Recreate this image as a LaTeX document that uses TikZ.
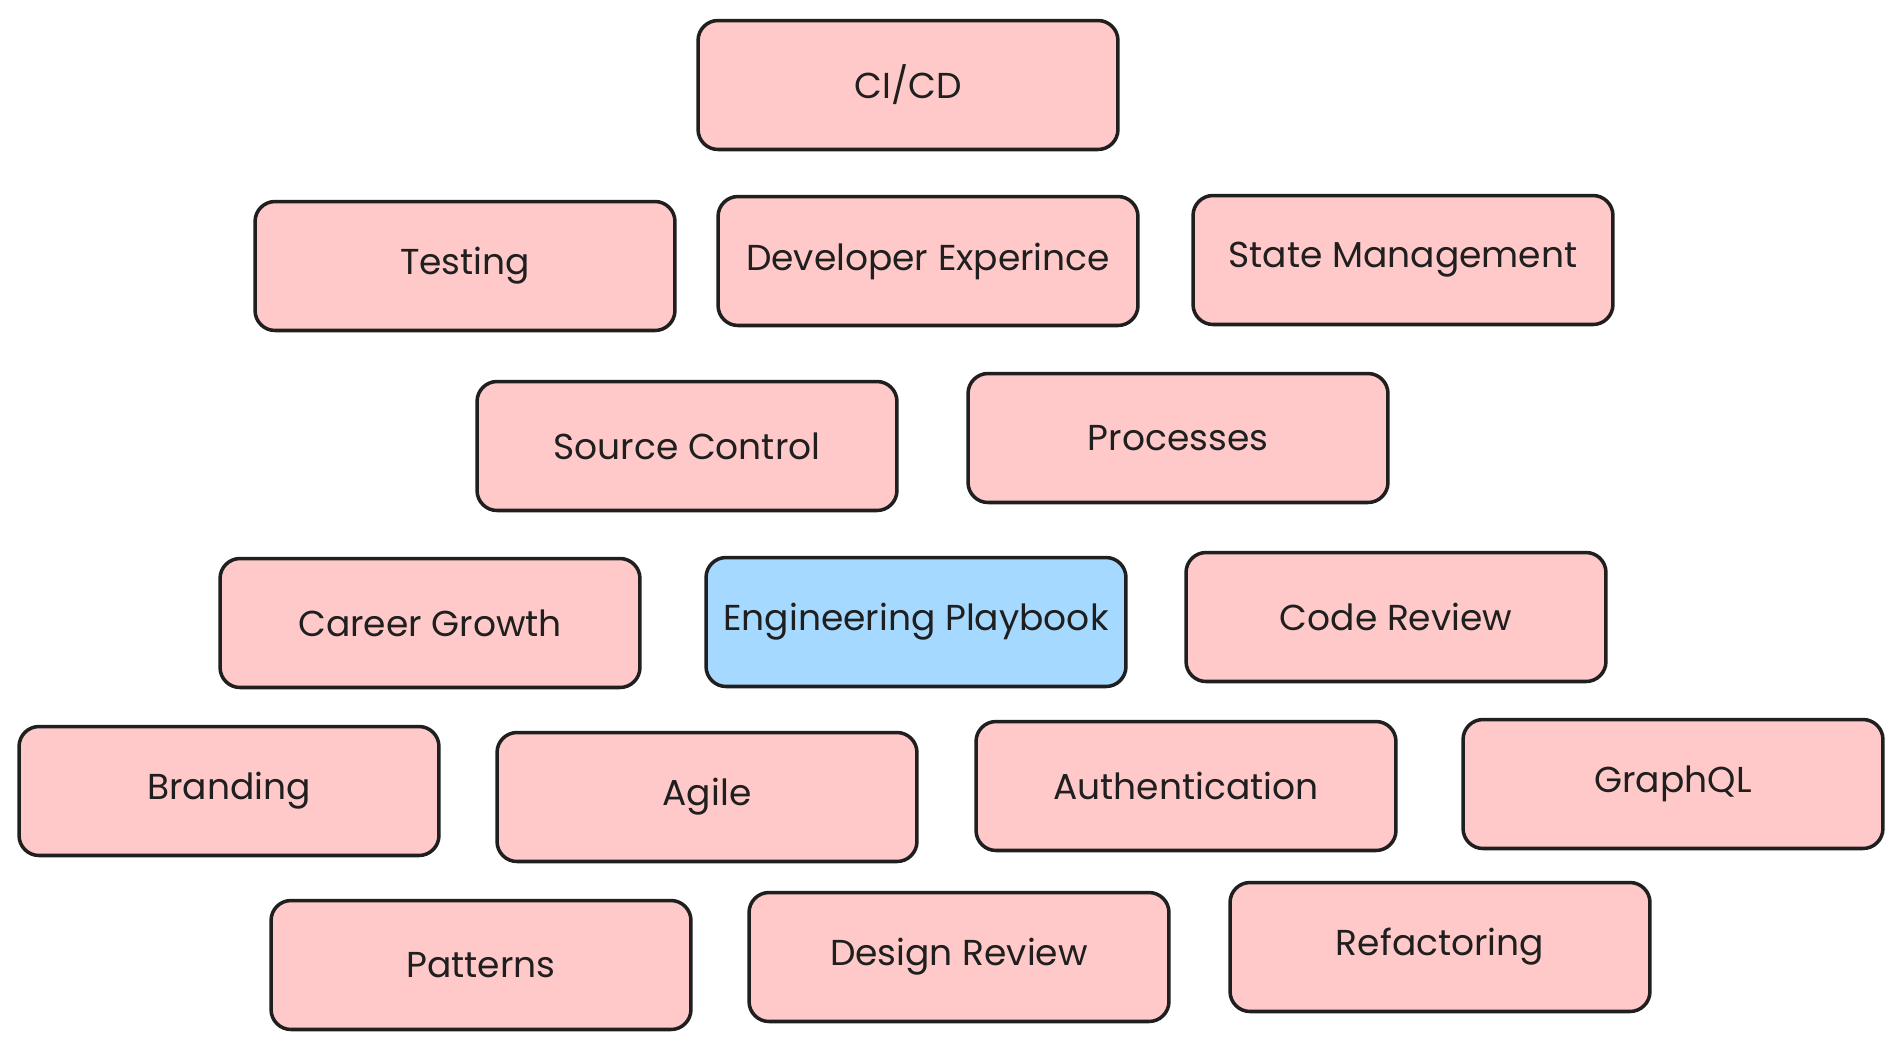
\documentclass[tikz,border=0pt]{standalone}
\usepackage{fontspec}
\setmainfont{Poppins}
\usepackage{tikz}
\definecolor{ffcccc}{rgb}{1,0.79,0.79}
\definecolor{aaddff}{rgb}{0.65,0.85,1}
\definecolor{uuuuuu}{rgb}{0.12,0.12,0.12}

\begin{document}
\begin{tikzpicture}[line cap=round,line join=round,x=0.02cm,y=-0.02cm,
  box/.style={draw=uuuuuu,fill=ffcccc,line width=2pt,rounded corners=0.4cm,
    minimum width=8.4cm,minimum height=2.58cm,inner sep=0pt,
    font=\fontsize{20.5}{24}\selectfont,text=uuuuuu},
  mainbox/.style={box,fill=aaddff}]
\useasboundingbox (0,0) rectangle (1904,1049);
\node[box] (cicd) at (908,85) {CI/CD};
\node[box] (testing) at (465,266) {Testing};
\node[box] (devexp) at (928,261) {Developer Experince};
\node[box] (state) at (1403,260) {State Management};
\node[box] (source) at (687,446) {Source Control};
\node[box] (processes) at (1178,438) {Processes};
\node[box] (career) at (430,623) {Career Growth};
\node[mainbox] (playbook) at (916,622) {Engineering Playbook};
\node[box] (codereview) at (1396,617) {Code Review};
\node[box] (branding) at (229,791) {Branding};
\node[box] (agile) at (707,797) {Agile};
\node[box] (auth) at (1186,786) {Authentication};
\node[box] (graphql) at (1673,784) {GraphQL};
\node[box] (patterns) at (481,965) {Patterns};
\node[box] (designreview) at (959,957) {Design Review};
\node[box] (refactoring) at (1440,947) {Refactoring};
\end{tikzpicture}
\end{document}
